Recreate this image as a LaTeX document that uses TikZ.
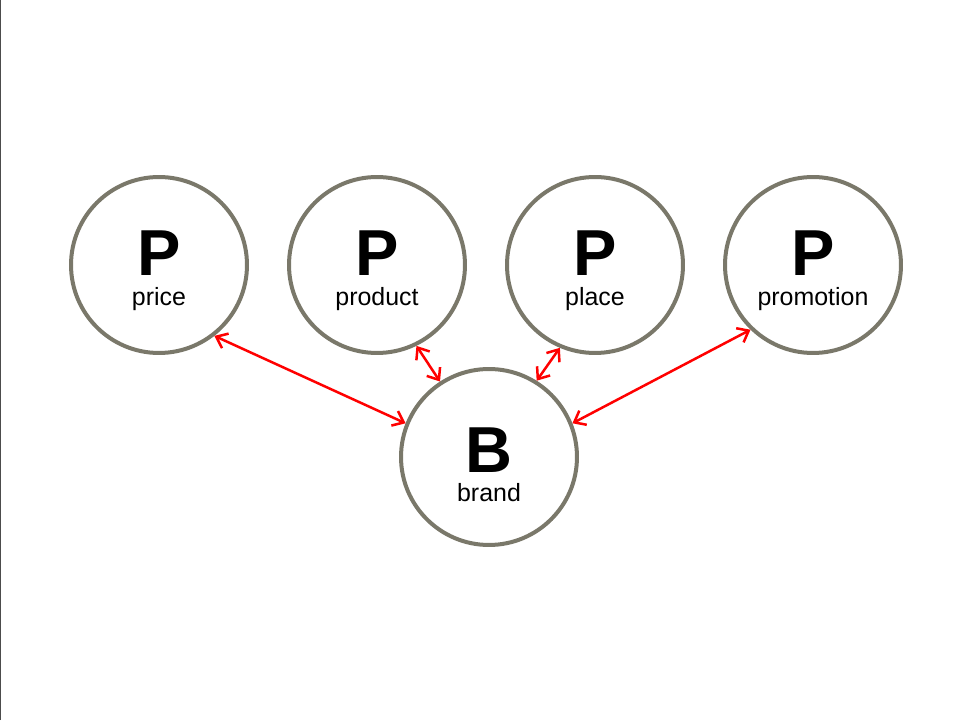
\documentclass[tikz,border=0pt]{standalone}
\usepackage{fontspec}
\setmainfont{Liberation Sans}
\usetikzlibrary{arrows.meta}
\definecolor{ringgray}{RGB}{122,120,106}
\tikzset{
  ring/.style={circle, draw=ringgray, line width=0.08cm, minimum size=3.52cm, inner sep=0pt},
  bigletter/.style={anchor=base, inner sep=0pt, font=\fontsize{37}{37}\selectfont\bfseries},
  smalltext/.style={anchor=base, inner sep=0pt, font=\fontsize{14.2}{16}\selectfont},
  link/.style={red, line width=0.05cm, {Straight Barb[length=2mm,width=3.2mm]}-{Straight Barb[length=2mm,width=3.2mm]}}
}
\begin{document}
\begin{tikzpicture}[x=0.02cm,y=0.02cm]
      \useasboundingbox (0,0) rectangle (960,720);
      \draw[color=black!70, line width=0.03cm] (0.6,0) -- (0.6,720);
      \draw
        (159,455) node[ring] (price){}
        (377,455) node[ring] (product){}
        (595,455) node[ring] (place){}
        (813,455) node[ring] (promotion){}
        (489,263) node[ring] (brand){};
      \draw
        (159,444) node[bigletter] (price P){P}
        (159,414) node[smalltext] (price t){price}
        (377,444) node[bigletter] (product P){P}
        (377,414) node[smalltext] (product t){product}
        (595,444) node[bigletter] (place P){P}
        (595,414) node[smalltext] (place t){place}
        (813,444) node[bigletter] (promotion P){P}
        (813,414) node[smalltext] (promotion t){promotion}
        (489,247) node[bigletter] (brand B){B}
        (489,218) node[smalltext] (brand t){brand};
      \begin{scope}[link]
        \draw (price.-52) to (brand.158);
        \draw (product.-64) to (brand.123);
        \draw (place.-113) to (brand.58);
        \draw (promotion.-134) to (brand.22);
      \end{scope}
    \end{tikzpicture}
\end{document}
